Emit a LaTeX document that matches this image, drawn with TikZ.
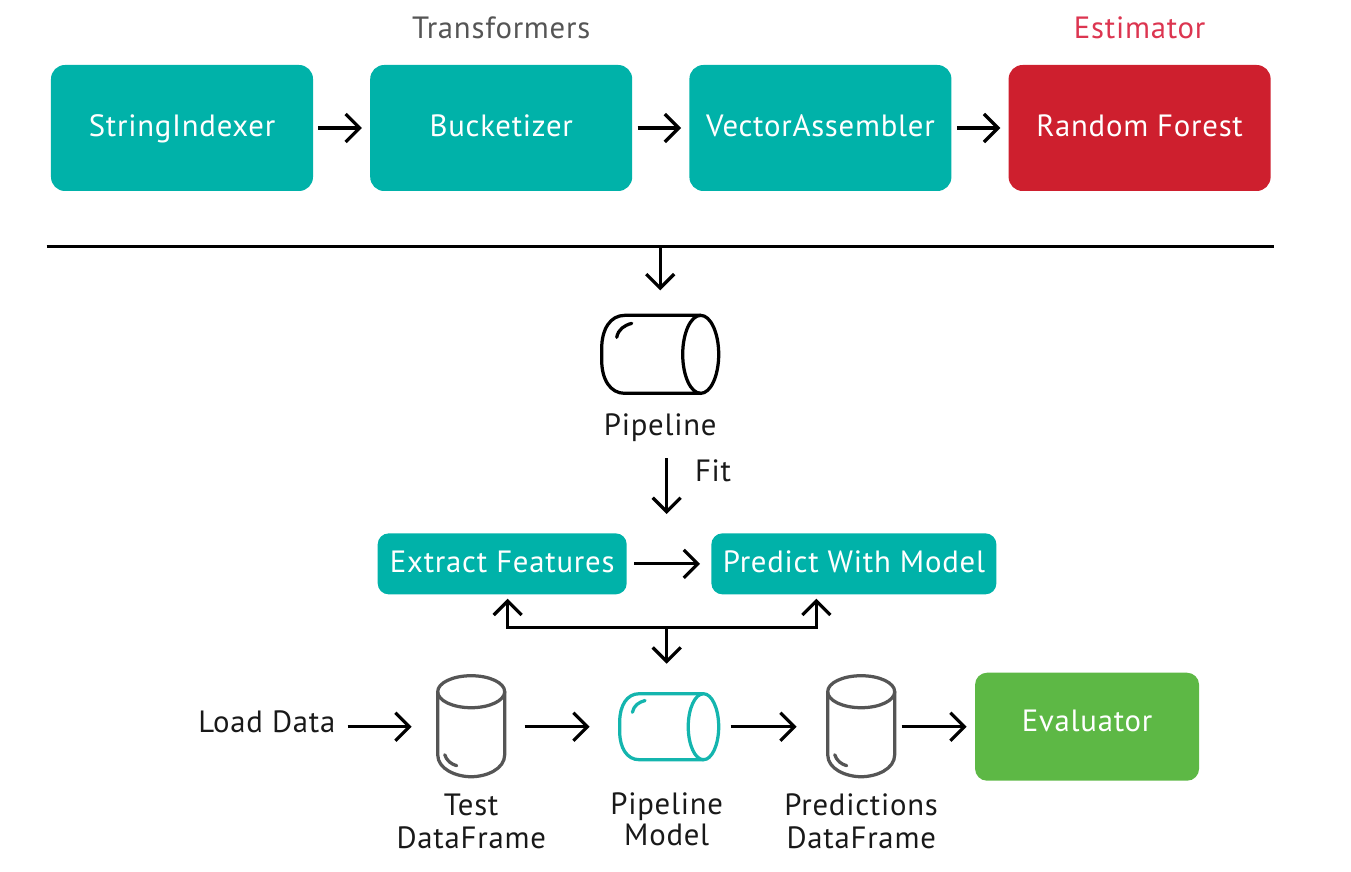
\documentclass[tikz,border=0pt]{standalone}
\usepackage{fontspec}
\setmainfont[LetterSpace=2.5]{PT Sans}
\usetikzlibrary{positioning,arrows.meta}
\definecolor{tealbox}{HTML}{00B2A9}
\definecolor{redbox}{HTML}{CE1F2E}
\definecolor{greenbox}{HTML}{5DB845}
\definecolor{iconteal}{HTML}{14B5AE}
\definecolor{icongray}{HTML}{555555}
\definecolor{esttext}{HTML}{DC3550}
\tikzset{
lab/.style={font=\fontsize{17.5}{18.8}\selectfont,inner sep=0pt,align=center,text=black!90},
txt/.style={lab,text height=12.2pt,text depth=2pt},
box/.style={txt,text=white,rounded corners=.28cm,minimum width=5.24cm,minimum height=2.52cm,fill=#1},
box/.default=tealbox,
smallbox/.style={box,rounded corners=.22cm,minimum height=1.22cm},
arr/.style={-{Straight Barb[length=.28cm,width=.56cm]},line width=.065cm,shorten <=.1cm,shorten >=.16cm},
biarr/.style={{Straight Barb[length=.28cm,width=.56cm]}-{Straight Barb[length=.28cm,width=.56cm]},line width=.065cm,shorten <=.08cm,shorten >=.08cm},
icon/.style={inner sep=0pt,minimum width=#1,outer sep=0pt},
pics/barrel/.style={code={
\draw[line width=.065cm,#1,line join=round] (.81,.78) -- (-.71,.78) .. controls (-1,.78) and (-1.17,.5) .. (-1.17,.12) -- (-1.17,-.12) .. controls (-1.17,-.5) and (-1,-.78) .. (-.71,-.78) -- (.81,-.78);
\draw[line width=.065cm,#1] (.81,0) ellipse[x radius=.36,y radius=.78];
\draw[line width=.065cm,#1,line cap=round] (-.87,.34) .. controls (-.84,.5) and (-.72,.58) .. (-.57,.62);
}},
pics/drum/.style={code={
\draw[line width=.065cm,icongray] (0,.7) ellipse[x radius=.67,y radius=.32];
\draw[line width=.065cm,icongray] (-.67,.7) -- (-.67,-.56) .. controls (-.67,-.85) and (-.3,-1) .. (0,-1) .. controls (.3,-1) and (.67,-.85) .. (.67,-.56) -- (.67,.7);
\draw[line width=.065cm,icongray,line cap=round] (-.53,-.56) .. controls (-.49,-.68) and (-.4,-.75) .. (-.29,-.78);
}}
}
\begin{document}
\begin{tikzpicture}
\useasboundingbox (-3.64,-14.88) rectangle (23.38,2.56);
\node[box](si){StringIndexer};
\node[box,right=1.13cm of si](bu){Bucketizer};
\node[box,right=1.13cm of bu](va){VectorAssembler};
\node[box=redbox,right=1.13cm of va](rf){Random Forest};
\node[txt,text=icongray,above=.45cm of bu](tr){Transformers};
\node[txt,text=esttext,above=.45cm of rf](es){Estimator};
\coordinate[below=1.1cm of si.south west,xshift=-.08cm](ruleL);
\coordinate[below=1.1cm of rf.south east,xshift=.06cm](ruleR);
\node[icon=2.34cm,minimum height=1.56cm,below=2.48cm of bu.south,xshift=3.18cm](pl){};
\pic at (pl) {barrel=black};
\coordinate(ruleC) at (ruleL -| pl);
\node[txt,below=.41cm of pl](pll){Pipeline};
\coordinate[below=.37cm of pll,xshift=.13cm](fitS);
\coordinate[below=1.12cm of fitS](fitE);
\node[txt,right=.56cm of fitS,yshift=-.3cm](fit){Fit};
\node[smallbox,minimum width=4.98cm,below=.38cm of fitE,xshift=-3.29cm](ex){Extract Features};
\node[smallbox,minimum width=5.7cm,right=1.68cm of ex](pd){Predict With Model};
\coordinate[below=.66cm of ex.south,xshift=.11cm](brL);
\coordinate[below=.66cm of pd.south,xshift=-.75cm](brR);
\coordinate(brC) at (brL -| fitE);
\node[icon=1.98cm,minimum height=1.32cm,below=1.32cm of brC,xshift=.05cm](pm){};
\pic[scale=.846] at (pm) {barrel=iconteal};
\node[icon=1.34cm,minimum height=2cm,left=2.3cm of pm](te){};
\pic at (te) {drum};
\node[icon=1.34cm,minimum height=2cm,right=2.18cm of pm](pr){};
\pic at (pr) {drum};
\node[box=greenbox,minimum width=4.48cm,minimum height=2.16cm,rounded corners=.24cm,text depth=6.5pt,right=1.6cm of pr](ev){Evaluator};
\node[txt,left=2.04cm of te,yshift=.06cm](ld){Load Data};
\node[lab,below=.34cm of te](tel){Test\\DataFrame};
\node[lab,below=.66cm of pm,xshift=-.05cm](pml){Pipeline\\[-.04cm]Model};
\node[lab,below=.34cm of pr](prl){Predictions\\DataFrame};
\draw[arr](si)--(bu);
\draw[arr](bu)--(va);
\draw[arr](va)--(rf);
\draw[line width=.06cm](ruleL)--(ruleR);
\draw[arr,shorten <=0cm,shorten >=.5cm](ruleC)--(pl);
\draw[arr,shorten <=0cm,shorten >=0cm](fitS)--(fitE);
\draw[arr,shorten <=.14cm,shorten >=.22cm](ex)--(pd);
\draw[biarr](brL |- ex.south)--(brL)--(brR)--(brR |- pd.south);
\draw[arr,shorten <=0cm,shorten >=.6cm](brC)--(brC |- pm.north);
\draw[arr,yshift=.03cm,shorten <=.24cm,shorten >=.52cm](ld.east |- te)--(te);
\draw[arr,yshift=.03cm,shorten <=.4cm,shorten >=.6cm](te)--(pm);
\draw[arr,yshift=.03cm,shorten <=.24cm,shorten >=.62cm](pm)--(pr);
\draw[arr,yshift=.03cm,shorten <=.14cm,shorten >=.16cm](pr)--(ev);
\end{tikzpicture}
\end{document}
